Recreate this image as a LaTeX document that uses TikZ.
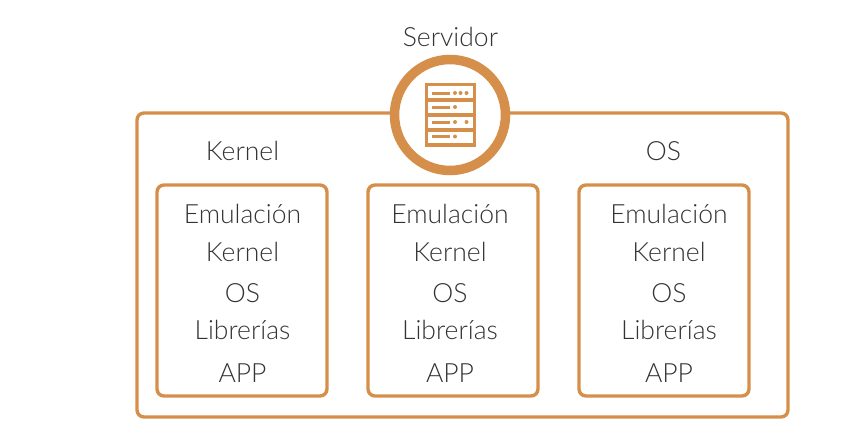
\documentclass[tikz,border=0pt]{standalone}
\usepackage{fontspec}
\setmainfont{Lato Light}
\definecolor{ochre}{HTML}{D68F4A}
\definecolor{ink}{HTML}{333333}
\tikzset{
  box/.style={draw=ochre,line width=3.4pt,rounded corners=7pt,fill=white},
  lbl/.style={text=ink,font=\fontsize{26.5}{30}\selectfont,inner sep=0pt,anchor=base},
  ring/.style={circle,draw=ochre,line width=9.5pt,fill=white,minimum size=111pt,inner sep=0pt},
  bar/.style={draw=ochre,line width=3pt},
  led/.style={circle,fill=ochre,inner sep=0pt,minimum size=4pt}
}
\begin{document}
\begin{tikzpicture}[x=1pt,y=-1pt]
\useasboundingbox[fill=white] (0,0) rectangle (848,436);
\node[box,minimum width=651pt,minimum height=304pt,inner sep=0pt,anchor=north west] (outer) at (135.3,111.3) {};
\node[ring] (srv) at (450,115) {};
\node[box,minimum width=170pt,minimum height=211pt,inner sep=0pt,anchor=north west] (b1) at (155.3,183.3) {};
\node[box,minimum width=170pt,minimum height=211pt,inner sep=0pt,anchor=north west] (b2) at (366.3,183.3) {};
\node[box,minimum width=170pt,minimum height=211pt,inner sep=0pt,anchor=north west] (b3) at (577.3,183.3) {};
% server icon
\draw[draw=ochre,line width=3.4pt,fill=white] (426.7,84.7) rectangle (474.3,145);
\foreach \yy in {100,115,130} \draw[draw=ochre,line width=3.4pt] (426.7,\yy) -- (474.3,\yy);
\foreach \yy in {93,107,122,136.5}
  \draw[bar] (432,\yy) -- (450,\yy);
\foreach \xx/\yy in {455/93,460.5/93,466.5/93,455/107,455/122,466.5/122,455/136.5}
  \node[led] at (\xx,\yy) {};
% labels
\node[lbl] (tsrv) at (450.5,47) {Servidor};
\node[lbl] (tker) at (242.5,160) {Kernel};
\node[lbl] (tos) at (663.5,160) {OS};
\foreach \n/\cx in {a/242.5,b/450,c/669}{
  \node[lbl] (em\n) at (\cx,223) {Emulación};
  \node[lbl] (ke\n) at (\cx,261) {Kernel};
  \node[lbl] (os\n) at (\cx,302) {OS};
  \node[lbl] (li\n) at (\cx,339) {Librerías};
  \node[lbl] (ap\n) at (\cx,382) {APP};
}
\end{tikzpicture}
\end{document}
